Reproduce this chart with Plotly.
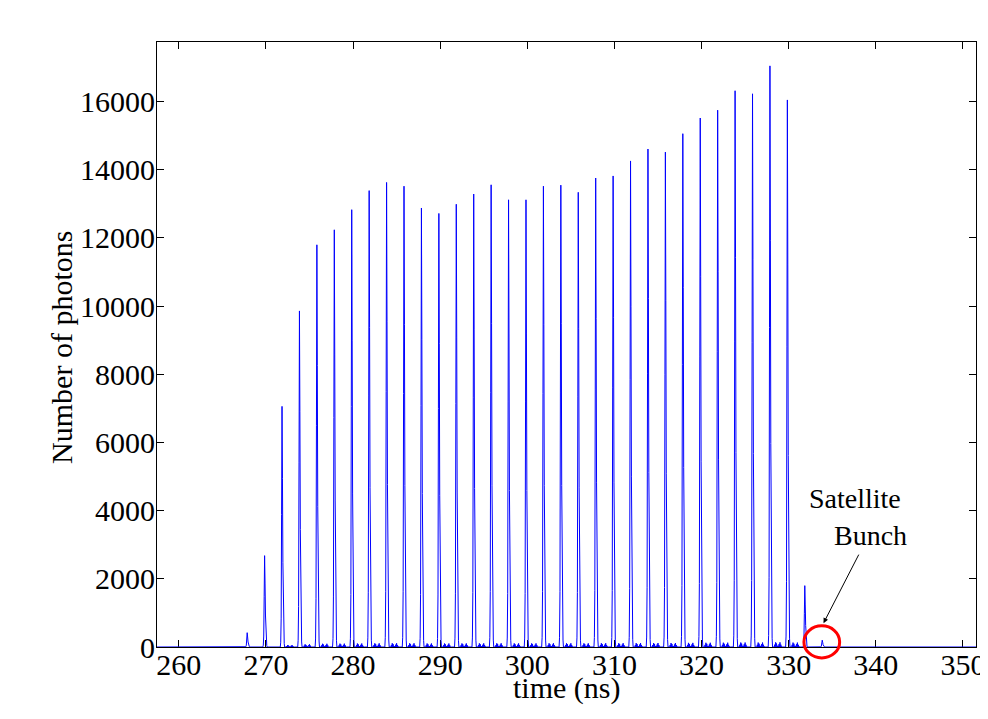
import numpy as np
import plotly.graph_objects as go

# ---- data ----
PEAK_TIME_NS = [267.85, 269.85, 271.85, 273.85, 275.85, 277.85, 279.85, 281.85,
                283.85, 285.85, 287.85, 289.85, 291.85, 293.85, 295.85, 297.85,
                299.85, 301.85, 303.85, 305.85, 307.85, 309.85, 311.85, 313.85,
                315.85, 317.85, 319.85, 321.85, 323.85, 325.85, 327.85, 329.85,
                331.85, 333.85]
PEAK_PHOTONS = [420, 2680, 7060, 9860, 11800, 12240, 12830, 13390,
                13630, 13520, 12880, 12720, 12990, 13290, 13560, 13120,
                13120, 13520, 13550, 13340, 13760, 13820, 14260, 14610,
                14520, 15060, 15520, 15750, 16320, 16230, 17050, 16050,
                1800, 200]

# relative pulse shape around each bunch (offset in ns, fraction of peak)
PULSE_OFFSET_NS = [-0.20, -0.15, -0.10, -0.05, 0.00, 0.05, 0.10, 0.15, 0.20, 0.25]
PULSE_REL = [0.00, 0.02, 0.12, 0.55, 1.00, 0.70, 0.35, 0.12, 0.04, 0.015]
# small after-pulse ripple between bunches
RIPPLE_OFFSET_NS = [0.45, 0.55, 0.65, 0.75, 0.85, 0.95, 1.05, 1.15, 1.25, 1.35, 1.45]
RIPPLE_REL = [0.001, 0.004, 0.008, 0.006, 0.002, 0.002, 0.005, 0.008, 0.004, 0.001, 0.0]

T_START, T_END, DT = 257.5, 351.5, 0.05
X_RANGE = [257.5, 351.5]
Y_RANGE = [0, 17750]
X_TICKS = [260, 270, 280, 290, 300, 310, 320, 330, 340, 350]
Y_TICKS = [0, 2000, 4000, 6000, 8000, 10000, 12000, 14000, 16000]

SAT_TIME, SAT_LEVEL = 333.8, 150

# ---- assemble waveform from the peak list ----
n = int(round((T_END - T_START) / DT)) + 1
t = T_START + DT * np.arange(n)
wave = np.zeros(n)
offs = PULSE_OFFSET_NS + RIPPLE_OFFSET_NS
rels = PULSE_REL + RIPPLE_REL
for tp, h in zip(PEAK_TIME_NS, PEAK_PHOTONS):
    i0 = int(round((tp - T_START) / DT))
    for o, r in zip(offs, rels):
        i = i0 + int(round(o / DT))
        if 0 <= i < n:
            wave[i] += h * r

FONT = "Liberation Serif"

fig = go.Figure()
fig.add_trace(go.Scatter(x=t, y=wave, mode="lines",
                         line=dict(color="#0000FF", width=1),
                         showlegend=False, hoverinfo="skip"))

axis_common = dict(showline=True, linecolor="black", linewidth=1, mirror="ticks",
                   ticks="inside", tickcolor="black", tickwidth=1, ticklen=7,
                   showgrid=False, zeroline=False, automargin=False,
                   tickformat="d",
                   tickfont=dict(family=FONT, size=30, color="black"))

fig.update_xaxes(range=X_RANGE, tickvals=X_TICKS, layer="below traces",
                 ticklabelstandoff=-9, **axis_common)
fig.update_yaxes(range=Y_RANGE, tickvals=Y_TICKS,
                 ticklabelstandoff=-5, **axis_common)

# axis titles
fig.add_annotation(text="time (ns)", xref="paper", yref="paper", x=0.5, y=-0.068,
                   xanchor="center", yanchor="middle", showarrow=False,
                   font=dict(family=FONT, size=30, color="black"))
fig.add_annotation(text="Number of photons", xref="paper", yref="paper", x=-0.116, y=0.496,
                   xanchor="center", yanchor="middle", showarrow=False, textangle=-90,
                   font=dict(family=FONT, size=30, color="black"))

# red circle around satellite bunch (paper coords so it is not clipped)
def px(xv):
    return (xv - X_RANGE[0]) / (X_RANGE[1] - X_RANGE[0])

def py(yv):
    return (yv - Y_RANGE[0]) / (Y_RANGE[1] - Y_RANGE[0])

fig.add_shape(type="circle", xref="paper", yref="paper",
              x0=px(SAT_TIME - 2.05), x1=px(SAT_TIME + 2.05),
              y0=py(SAT_LEVEL - 470), y1=py(SAT_LEVEL + 470),
              line=dict(color="#FF0000", width=3))

fig.add_annotation(x=334.0, y=700, xref="x", yref="y", text="",
                   showarrow=True, ax=36, ay=-70, arrowhead=2, arrowsize=1,
                   arrowwidth=1, arrowcolor="black")
fig.add_annotation(x=337.65, y=4360, xref="x", yref="y", text="Satellite",
                   showarrow=False, font=dict(family=FONT, size=28, color="black"))
fig.add_annotation(x=339.4, y=3260, xref="x", yref="y", text="Bunch",
                   showarrow=False, font=dict(family=FONT, size=28, color="black"))

# page body adds an 8px offset, so the figure is drawn 8px smaller with shifted margins
fig.update_layout(width=980, height=711, paper_bgcolor="white", plot_bgcolor="white",
                  margin=dict(l=149, r=12, t=34, b=72))

fig.write_html("out.html")
